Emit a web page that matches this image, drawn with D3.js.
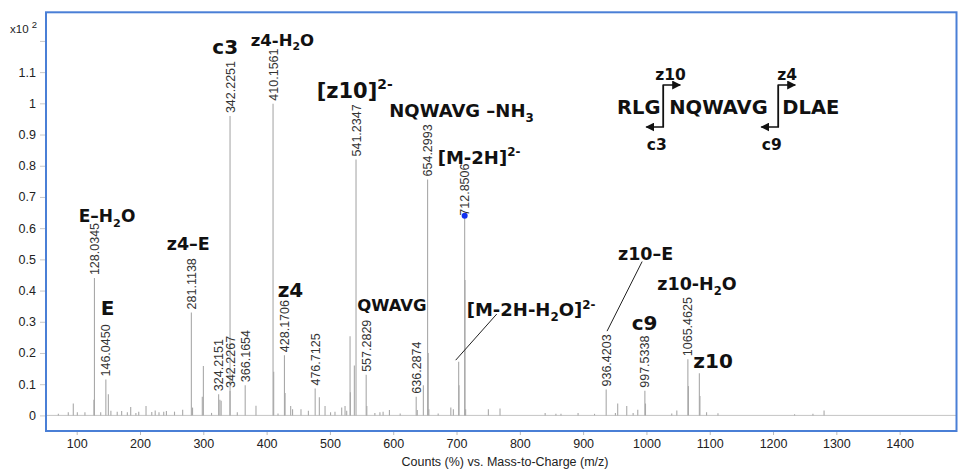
<!doctype html>
<html>
<head>
<meta charset="utf-8" />
<title>MS/MS spectrum</title>
<script src="https://cdn.jsdelivr.net/npm/d3@7"></script>
<style>
  html, body { margin: 0; background: #fff; overflow: hidden; }
  text { font-family: "Liberation Sans", Arial, sans-serif; }
  .ion { font-family: "DejaVu Sans", Verdana, sans-serif; font-weight: bold; fill: #111; }
</style>
</head>
<body>
<script>
// peak list (m/z, counts x10^2)
const peakMz = [71, 86.7, 94.6, 101, 113, 127.2, 128.0345, 137.9, 146.045, 150.0, 154, 164, 171, 180,
  185.3, 193.5, 198, 209.5, 218.6, 224, 230, 237.5, 241.7, 254.5, 267.4, 281.1138, 283, 298.4, 300.1,
  313, 324.2151, 326.2, 328.2, 342.2251, 342.2267, 353.7, 366.1654, 383.2, 410.1561, 411.16, 418,
  428.1706, 429.17, 438, 441, 454.3, 466, 476.7125, 483.3, 492.3, 501, 508, 518.6, 523.9, 526.5,
  531.8, 532.4, 538.6, 541.2347, 557.2829, 558.3, 571, 579, 584, 594, 611, 636.2874, 638, 647.6,
  654.2993, 655.3, 656.3, 671, 691, 695, 703.4, 703.9, 712.8506, 713.35, 714.4, 750.3, 768.7, 840,
  857, 865, 892, 918, 936.4203, 951, 954.6, 968.9, 979, 986.3, 997.5338, 998.5, 1040, 1048,
  1065.4625, 1066.4, 1083.6, 1084.5, 1095, 1113, 1234, 1263, 1280.6];
const peakInt = [0.005, 0.01, 0.038, 0.01, 0.01, 0.05, 0.44, 0.01, 0.115, 0.068, 0.015, 0.012, 0.014, 0.01,
  0.027, 0.008, 0.012, 0.03, 0.011, 0.016, 0.01, 0.012, 0.014, 0.012, 0.018, 0.33, 0.025, 0.06, 0.158,
  0.008, 0.068, 0.05, 0.047, 0.959, 0.078, 0.01, 0.097, 0.031, 0.999, 0.14, 0.006,
  0.193, 0.072, 0.03, 0.02, 0.02, 0.015, 0.086, 0.058, 0.03, 0.01, 0.012, 0.025, 0.03, 0.015,
  0.254, 0.074, 0.16, 0.82, 0.13, 0.03, 0.008, 0.01, 0.012, 0.017, 0.006, 0.06, 0.017, 0.097,
  0.756, 0.2, 0.02, 0.006, 0.025, 0.02, 0.172, 0.097, 0.64, 0.434, 0.02, 0.02, 0.022, 0.008,
  0.005, 0.005, 0.008, 0.005, 0.083, 0.008, 0.038, 0.03, 0.008, 0.018, 0.079, 0.038, 0.006, 0.016,
  0.18, 0.094, 0.135, 0.062, 0.01, 0.007, 0.004, 0.005, 0.016];

// peaks that carry an m/z label
const labelledMz = ["128.0345", "146.0450", "281.1138", "324.2151", "342.2251", "342.2267", "366.1654",
  "410.1561", "428.1706", "476.7125", "541.2347", "557.2829", "636.2874", "654.2993", "712.8506",
  "936.4203", "997.5338", "1065.4625"];
const markedMz = 712.8506;

const xTicks = [100, 200, 300, 400, 500, 600, 700, 800, 900, 1000, 1100, 1200, 1300, 1400];
const yTicks = [0, 0.1, 0.2, 0.3, 0.4, 0.5, 0.6, 0.7, 0.8, 0.9, 1, 1.1, 1.2];

// fragment ion names (text in m/z, intensity units)
const ions = [
  { parts: [["c3"]], m: 314.2, v: 1.158, size: 20 },
  { parts: [["z4-H"], ["2", "sub"], ["O"]], m: 374.9, v: 1.185, size: 16.5 },
  { parts: [["E–H"], ["2", "sub"], ["O"]], m: 103.2, v: 0.6205, size: 17 },
  { parts: [["z4–E"]], m: 242.2, v: 0.53, size: 17.5 },
  { parts: [["E"]], m: 137.9, v: 0.3215, size: 20 },
  { parts: [["z4"]], m: 417.5, v: 0.38, size: 20 },
  { parts: [["[z10]"], ["2-", "sup"]], m: 479.1, v: 1.0186, size: 21 },
  { parts: [["NQWAVG –NH"], ["3", "sub"]], m: 593.8, v: 0.955, size: 18 },
  { parts: [["[M-2H]"], ["2-", "sup"]], m: 670.3, v: 0.8054, size: 18 },
  { parts: [["QWAVG"]], m: 543.1, v: 0.335, size: 16.5 },
  { parts: [["[M-2H-H"], ["2", "sub"], ["O]"], ["2-", "sup"]], m: 716.1, v: 0.318, size: 18 },
  { parts: [["z10–E"]], m: 955.1, v: 0.499, size: 17.5 },
  { parts: [["z10-H"], ["2", "sub"], ["O"]], m: 1017.2, v: 0.4016, size: 17.5 },
  { parts: [["c9"]], m: 976.8, v: 0.2734, size: 20 },
  { parts: [["z10"]], m: 1074.1, v: 0.1506, size: 20 }
];
const leaders = [
  { m1: 698.7, v1: 0.177, m2: 763.5, v2: 0.3247 },
  { m1: 937.8, v1: 0.27, m2: 993.2, v2: 0.493 }
];

const width = 958, height = 470;
const frame = { left: 46, top: 12.3, right: 956.5, bottom: 431 };

const x = d3.scaleLinear().domain([51.5, 1490.6]).range([frame.left, 957]);
const y = d3.scaleLinear().domain([-0.05, 1.2917]).range([frame.bottom, frame.top]);

const svg = d3.select("body").append("svg")
  .attr("width", width)
  .attr("height", height);

svg.append("defs").append("marker")
  .attr("id", "arrow")
  .attr("viewBox", "0 0 10 10")
  .attr("refX", 9).attr("refY", 5)
  .attr("markerWidth", 9).attr("markerHeight", 9)
  .attr("markerUnits", "userSpaceOnUse")
  .attr("orient", "auto")
  .append("path")
  .attr("d", "M0,0 L10,5 L0,10 Z")
  .attr("fill", "#111");

const plot = svg.append("g");

// baseline
plot.append("line")
  .attr("x1", frame.left).attr("x2", frame.right)
  .attr("y1", y(0)).attr("y2", y(0))
  .attr("stroke", "#c4c4c4");

// peaks
const peaks = peakMz.map((m, i) => ({ m, v: peakInt[i] }));
plot.append("g")
  .selectAll("line")
  .data(peaks)
  .join("line")
  .attr("x1", d => x(d.m)).attr("x2", d => x(d.m))
  .attr("y1", y(0)).attr("y2", d => y(d.v))
  .attr("stroke", "#a9a9a9")
  .attr("stroke-width", 1.1);

// m/z labels
const labelled = labelledMz.map(t => ({ t, p: peaks.find(p => p.m === +t) }));
plot.append("g")
  .selectAll("text")
  .data(labelled)
  .join("text")
  .attr("transform", d => `translate(${x(d.p.m)},${y(d.p.v) - (d.p.m === markedMz ? 0 : 3)}) rotate(-90)`)
  .attr("dy", "0.36em")
  .attr("font-size", 12.5)
  .attr("fill", "#333")
  .text(d => d.t);

// blue marker on the precursor
plot.append("circle")
  .attr("cx", x(markedMz))
  .attr("cy", y(peakInt[peakMz.indexOf(markedMz)]))
  .attr("r", 3)
  .attr("fill", "#1030f0");

// leader lines
plot.append("g")
  .selectAll("line")
  .data(leaders)
  .join("line")
  .attr("x1", d => x(d.m1)).attr("y1", d => y(d.v1))
  .attr("x2", d => x(d.m2)).attr("y2", d => y(d.v2))
  .attr("stroke", "#222")
  .attr("stroke-width", 1);

// ion names
function drawParts(sel, parts, size) {
  let shift = 0;
  parts.forEach(([s, kind]) => {
    let target = kind === "sub" ? 0.28 * size : kind === "sup" ? -0.42 * size : 0;
    sel.append("tspan")
      .attr("dy", target - shift)
      .attr("font-size", kind ? size * 0.66 : size)
      .text(s);
    shift = target;
  });
}
ions.forEach(d => {
  const t = plot.append("text")
    .attr("class", "ion")
    .attr("x", x(d.m))
    .attr("y", y(d.v));
  drawParts(t, d.parts, d.size);
});

// frame
svg.append("rect")
  .attr("x", frame.left).attr("y", frame.top)
  .attr("width", frame.right - frame.left)
  .attr("height", frame.bottom - frame.top)
  .attr("fill", "none")
  .attr("stroke", "#4a7fd6")
  .attr("stroke-width", 2);

// axes
const xAxis = svg.append("g")
  .attr("transform", `translate(0,${frame.bottom + 1})`)
  .call(d3.axisBottom(x).tickValues(xTicks).tickSize(3).tickPadding(4).tickFormat(d3.format("d")));
xAxis.select(".domain").remove();
xAxis.selectAll(".tick line").attr("stroke", "#bbb");
xAxis.selectAll("text").attr("font-size", 12.5).attr("fill", "#222")
  .attr("font-family", "Liberation Sans, Arial, sans-serif");

const yAxis = svg.append("g")
  .attr("transform", `translate(${frame.left - 1},0)`)
  .call(d3.axisLeft(y).tickValues(yTicks).tickSize(5).tickPadding(4)
    .tickFormat(v => (v > 1.15 ? "" : d3.format("~g")(v))));
yAxis.select(".domain").remove();
yAxis.selectAll(".tick line").attr("stroke", "#c8c8c8");
yAxis.selectAll("text").attr("font-size", 12.5).attr("fill", "#222")
  .attr("font-family", "Liberation Sans, Arial, sans-serif");

const scaleNote = svg.append("text").attr("x", 10).attr("y", 33).attr("font-size", 11.5).attr("fill", "#222");
scaleNote.append("tspan").text("x10 ");
scaleNote.append("tspan").attr("dy", -5).attr("font-size", 9.5).text("2");

svg.append("text")
  .attr("x", 505).attr("y", 466)
  .attr("text-anchor", "middle")
  .attr("font-size", 12.5)
  .attr("fill", "#222")
  .text("Counts (%) vs. Mass-to-Charge (m/z)");

// sequence with cleavage sites
const seq = svg.append("g");
const seqWords = [["RLG", 617], ["NQWAVG", 669.3], ["DLAE", 782.3]];
seq.selectAll("text.res")
  .data(seqWords)
  .join("text")
  .attr("class", "ion res")
  .attr("x", d => d[1]).attr("y", 114)
  .attr("font-size", 19.5)
  .text(d => d[0]);

const cuts = [
  { x: 663.3, top: "z10", bottom: "c3" },
  { x: 778.3, top: "z4", bottom: "c9" }
];
cuts.forEach(c => {
  seq.append("path")
    .attr("d", `M${c.x},127 L${c.x},85 L${c.x + 17},85`)
    .attr("fill", "none").attr("stroke", "#111").attr("stroke-width", 1.5)
    .attr("marker-end", "url(#arrow)");
  seq.append("path")
    .attr("d", `M${c.x},85 L${c.x},127 L${c.x - 17},127`)
    .attr("fill", "none").attr("stroke", "#111").attr("stroke-width", 1.5)
    .attr("marker-end", "url(#arrow)");
  seq.append("text").attr("class", "ion")
    .attr("x", c.x + (c.top === "z10" ? -8 : -1)).attr("y", 80)
    .attr("font-size", 15.5).text(c.top);
  seq.append("text").attr("class", "ion")
    .attr("x", c.x - 16.5).attr("y", 150)
    .attr("font-size", 15.5).text(c.bottom);
});
</script>
</body>
</html>
